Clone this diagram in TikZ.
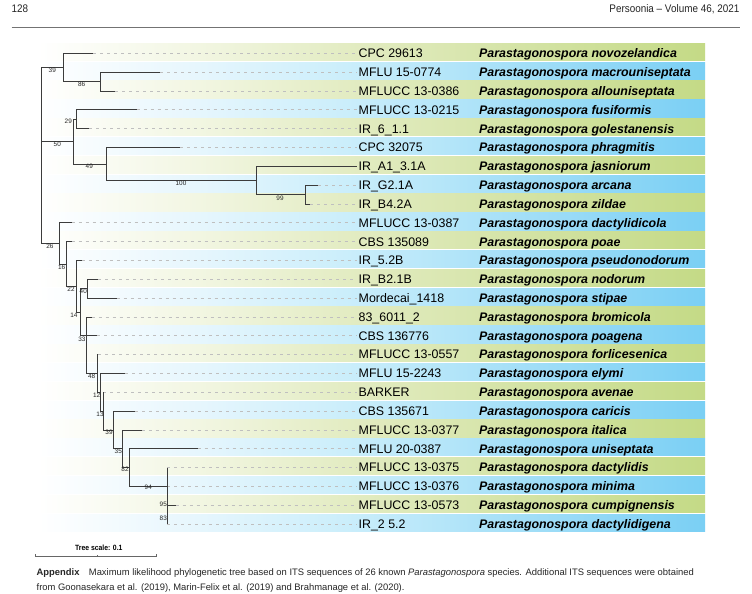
\documentclass[tikz,border=0pt]{standalone}
\usepackage{fontspec}
\setmainfont{Liberation Sans}
\newfontfamily\narrowfont[FakeStretch=0.9]{Liberation Sans}
\definecolor{gA}{HTML}{F2F6E2}
\definecolor{gB}{HTML}{E3ECC3}
\definecolor{gC}{HTML}{C4DA86}
\definecolor{bA}{HTML}{E6F6FD}
\definecolor{bB}{HTML}{CBEEFB}
\definecolor{bC}{HTML}{7ACFF4}
\definecolor{treecol}{HTML}{3C3C3C}
\pgfdeclarehorizontalshading{greenband}{100bp}{color(0bp)=(white); color(25bp)=(white); color(37bp)=(gA); color(48bp)=(gB); color(75bp)=(gC); color(100bp)=(gC)}
\pgfdeclarehorizontalshading{blueband}{100bp}{color(0bp)=(white); color(25bp)=(white); color(37bp)=(bA); color(48bp)=(bB); color(75bp)=(bC); color(100bp)=(bC)}
\tikzset{
  branch/.style={draw=treecol, line width=0.8pt},
  leader/.style={draw=black!25, line width=0.6pt, dash pattern=on 3pt off 4pt},
  strain/.style={anchor=base west, inner sep=2pt, font=\fontsize{12.4}{14}\selectfont},
  species/.style={anchor=base west, inner sep=2pt, font=\fontsize{12.4}{14}\selectfont\bfseries\itshape},
  bs/.style={inner sep=0pt, font=\fontsize{6.4}{6.4}\selectfont, text=black!85},
  hdr/.style={inner sep=0pt, font=\narrowfont\fontsize{11}{12}\selectfont, text=black!85},
  captext/.style={anchor=base west, inner sep=0pt, font=\fontsize{9.4}{12}\selectfont, text=black!85},
}
\begin{document}
\begin{tikzpicture}[x=1pt,y=-1pt]
\useasboundingbox (0,0) rectangle (752,594);
\fill[white] (0,0) rectangle (752,594);

% header
\node[hdr, anchor=base west] (pgnum) at (11.5,13) {128};
\node[hdr, anchor=base east] (journal) at (739.5,13) {Persoonia – Volume 46, 2021};
\draw[black!55, line width=0.8pt] (11.5,27.5) -- (739.5,27.5);

% bands
\foreach \i in {0,...,25}{
  \pgfmathtruncatemacro\odd{mod(\i,2)}
  \pgfmathsetmacro\yc{51.9+18.83*\i}
  \ifnum\odd=1 \def\shd{blueband}\else\def\shd{greenband}\fi
  \shade[shading=\shd] (38,{\yc-8.65}) rectangle (705,{\yc+8.65});
}

% labels
\foreach \i/\st/\sp in {0/CPC 29613/novozelandica, 1/MFLU 15-0774/macrouniseptata,
  2/MFLUCC 13-0386/allouniseptata, 3/MFLUCC 13-0215/fusiformis, 4/IR\_6\_1.1/golestanensis,
  5/CPC 32075/phragmitis, 6/IR\_A1\_3.1A/jasniorum, 7/IR\_G2.1A/arcana, 8/IR\_B4.2A/zildae,
  9/MFLUCC 13-0387/dactylidicola, 10/CBS 135089/poae, 11/IR\_5.2B/pseudonodorum,
  12/IR\_B2.1B/nodorum, 13/Mordecai\_1418/stipae, 14/83\_6011\_2/bromicola,
  15/CBS 136776/poagena, 16/MFLUCC 13-0557/forlicesenica, 17/MFLU 15-2243/elymi,
  18/BARKER/avenae, 19/CBS 135671/caricis, 20/MFLUCC 13-0377/italica,
  21/MFLU 20-0387/uniseptata, 22/MFLUCC 13-0375/dactylidis, 23/MFLUCC 13-0376/minima,
  24/MFLUCC 13-0573/cumpignensis, 25/IR\_2 5.2/dactylidigena}{
  \pgfmathsetmacro\yb{53.3+18.83*\i+4.4}
  \node[strain] (s\i) at (356.5,\yb) {\st};
  \node[species] (sp\i) at (477,\yb) {Parastagonospora \sp};
}

% tips
\coordinate (t0) at (93.3,53.3);
\coordinate (t1) at (160,72.13);
\coordinate (t2) at (115,90.96);
\coordinate (t3) at (136.7,109.79);
\coordinate (t4) at (89.3,128.62);
\coordinate (t5) at (180,147.45);
\coordinate (t6) at (356.5,166.28);
\coordinate (t7) at (318.3,185.11);
\coordinate (t8) at (310,203.94);
\coordinate (t9) at (71.7,222.77);
\coordinate (t10) at (71.7,241.6);
\coordinate (t11) at (81.7,260.43);
\coordinate (t12) at (98.3,279.26);
\coordinate (t13) at (116.7,298.09);
\coordinate (t14) at (91.7,316.92);
\coordinate (t15) at (97.3,335.75);
\coordinate (t16) at (98.3,354.58);
\coordinate (t17) at (125,373.41);
\coordinate (t18) at (103.3,392.24);
\coordinate (t19) at (135,411.07);
\coordinate (t20) at (141.7,429.9);
\coordinate (t21) at (197.7,448.73);
\coordinate (t22) at (167.3,467.56);
\coordinate (t23) at (167.3,486.39);
\coordinate (t24) at (175.7,505.22);
\coordinate (t25) at (167.3,524.05);

% internal nodes
\coordinate (R) at (41.7,141.55);
\coordinate (A) at (63.3,67.4);
\coordinate (A2) at (100,81.55);
\coordinate (B) at (73.3,141.55);
\coordinate (B1) at (76.7,119.2);
\coordinate (B2) at (106,163.9);
\coordinate (B3) at (256,180.4);
\coordinate (B4) at (305,194.53);
\coordinate (C) at (59.3,243.37);
\coordinate (C1) at (66.7,263.97);
\coordinate (C2) at (76.7,286.3);
\coordinate (D14) at (80,312.2);
\coordinate (D40) at (87.3,288.68);
\coordinate (D33) at (86.7,335.75);
\coordinate (Y) at (86.7,354.58);
\coordinate (D48) at (97.3,373.41);
\coordinate (D12) at (100,392.24);
\coordinate (D13) at (103.3,411.07);
\coordinate (D39) at (113.3,429.9);
\coordinate (D35) at (122.7,448.73);
\coordinate (D82) at (129.3,467.56);
\coordinate (D94) at (167.3,486.39);

% leaders
\foreach \i in {0,1,2,3,4,5,7,8,9,10,11,12,13,14,15,16,17,18,19,20,21,22,23,24,25}{
  \draw[leader] (t\i) -- (t\i -| s\i.west);
}

% branches
\foreach \p/\c in {R/A, R/B, R/C, A/t0, A/A2, A2/t1, A2/t2,
  B/B1, B/B2, B1/t3, B1/t4, B2/t5, B2/B3, B3/t6, B3/B4, B4/t7, B4/t8,
  C/t9, C/C1, C1/t10, C1/C2, C2/t11, C2/D14, D14/D40, D14/D33, D40/t12, D40/t13,
  D33/t14, D33/Y, Y/t15, Y/D48, D48/t16, D48/D12, D12/t17, D12/D13,
  D13/t18, D13/D39, D39/t19, D39/D35, D35/t20, D35/D82, D82/t21, D82/D94,
  D94/t22, D94/t23, D94/t24, D94/t25}{
  \draw[branch] (\p) |- (\c);
}

% bootstrap values
\node[bs] (b39a) at (52.3,70.7) {39};
\node[bs] (b86) at (81.7,84.3) {86};
\node[bs] (b29) at (68.3,121.7) {29};
\node[bs] (b50) at (57.3,144.3) {50};
\node[bs] (b49) at (89.3,166.5) {49};
\node[bs] (b100) at (181,183.5) {100};
\node[bs] (b99) at (280,198) {99};
\node[bs] (b26) at (50,246.5) {26};
\node[bs] (b16) at (61.7,266.9) {16};
\node[bs] (b22) at (71,289.3) {22};
\node[bs] (b40) at (83.3,291.7) {40};
\node[bs] (b14) at (74,315) {14};
\node[bs] (b33) at (81.9,339.3) {33};
\node[bs] (b48) at (91.7,376.7) {48};
\node[bs] (b12) at (96.7,395) {12};
\node[bs] (b13) at (100,414) {13};
\node[bs] (b39b) at (109,432.3) {39};
\node[bs] (b35) at (118.3,451.7) {35};
\node[bs] (b82) at (125,469.3) {82};
\node[bs] (b94) at (148.3,487.3) {94};
\node[bs] (b95) at (163.3,504) {95};
\node[bs] (b83) at (163.3,518.3) {83};

% tree scale
\node[inner sep=0pt, font=\narrowfont\fontsize{7.6}{8}\selectfont\bfseries] (ts) at (98.8,548) {Tree scale: 0.1};
\coordinate (sb0) at (35,556);
\coordinate (sb1) at (156.7,556);
\coordinate (sbm) at (97.3,556);
\draw[black!60, line width=0.6pt] (sb0) -- (sb1);
\draw[black!60, line width=0.6pt] (sb0) -- ++(0,-2.5) (sb1) -- ++(0,-2.5) (sbm) -- ++(0,-1.5);

% caption
\node[captext] (cap1) at (36.5,575) {\textbf{Appendix}\quad Maximum likelihood phylogenetic tree based on ITS sequences of 26 known \textit{Parastagonospora} species. Additional ITS sequences were obtained};
\node[captext] (cap2) at (36.5,590) {from Goonasekara et al. (2019), Marin-Felix et al. (2019) and Brahmanage et al. (2020).};
\end{tikzpicture}
\end{document}
